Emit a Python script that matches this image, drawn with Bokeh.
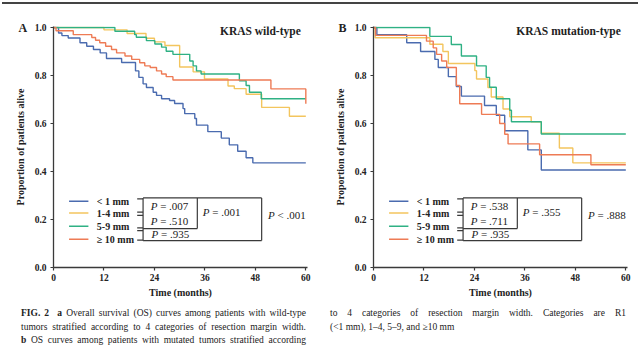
from bokeh.plotting import figure
from bokeh.models import Range1d, Label, PrintfTickFormatter, Div
from bokeh.layouts import column, row
from bokeh.embed import file_html
from bokeh.resources import INLINE
from bokeh.core.properties import value

# ---------------- data ----------------
groups = ["< 1  mm", "1-4  mm", "5-9 mm", "\u2265 10 mm"]
colors = ["#4A6BAF", "#F3C55E", "#2FB184", "#EE7B55"]

# Panel A (KRAS wild-type): event times (months) and survival after each step
a_blue_t = [0, 1.2, 2.0, 3.5, 6.3, 7.9, 9.5, 11.1, 12.6, 16.2, 19.5, 20.3, 21.3, 22.1, 23.7, 24.5, 25.7, 27.6, 28.8, 30.8, 31.2, 33.6, 34.0, 36.7, 39.9, 41.8, 43.8, 45.8, 47.4, 60]
a_blue_s = [1.0, 0.977, 0.966, 0.956, 0.936, 0.922, 0.908, 0.894, 0.871, 0.854, 0.819, 0.792, 0.765, 0.750, 0.730, 0.717, 0.703, 0.696, 0.683, 0.662, 0.641, 0.621, 0.593, 0.566, 0.539, 0.511, 0.484, 0.457, 0.436, 0.436]
a_yel_t = [0, 12.0, 17.5, 22.0, 24.0, 26.5, 30.0, 33.2, 35.9, 41.5, 43.0, 45.8, 49.5, 56.1, 60]
a_yel_s = [1.0, 0.99, 0.975, 0.955, 0.94, 0.925, 0.835, 0.815, 0.785, 0.756, 0.745, 0.722, 0.667, 0.630, 0.630]
a_grn_t = [0, 14.6, 19.3, 19.7, 22.1, 24.1, 25.7, 26.8, 28.4, 32.4, 33.2, 34.0, 35.1, 44.2, 45.8, 46.6, 49.4, 60]
a_grn_s = [1.0, 0.984, 0.970, 0.959, 0.945, 0.931, 0.918, 0.901, 0.888, 0.860, 0.840, 0.819, 0.806, 0.778, 0.758, 0.730, 0.703, 0.703]
a_org_t = [0, 0.6, 4.7, 9.1, 10.0, 11.0, 12.4, 13.8, 15.0, 17.0, 18.6, 20.5, 21.7, 23.0, 24.5, 25.7, 26.8, 28.4, 51.7, 60]
a_org_s = [1.0, 0.986, 0.970, 0.958, 0.947, 0.936, 0.922, 0.908, 0.894, 0.881, 0.867, 0.853, 0.840, 0.833, 0.819, 0.806, 0.795, 0.781, 0.744, 0.682]

# Panel B (KRAS mutation-type)
b_blue_t = [0, 0.8, 7.9, 11.2, 14.6, 15.4, 17.8, 19.7, 20.9, 26.4, 29.2, 31.2, 36.7, 39.9, 60]
b_blue_s = [1.0, 0.970, 0.936, 0.900, 0.867, 0.833, 0.795, 0.754, 0.714, 0.675, 0.634, 0.570, 0.490, 0.406, 0.406]
b_yel_t = [0, 0.4, 13.4, 16.5, 17.8, 24.1, 24.5, 27.2, 28.0, 30.8, 32.4, 37.5, 39.9, 44.2, 47.4, 60]
b_yel_s = [1.0, 0.957, 0.930, 0.900, 0.850, 0.820, 0.785, 0.750, 0.710, 0.660, 0.628, 0.607, 0.559, 0.498, 0.436, 0.436]
b_grn_t = [0, 13.4, 18.5, 20.9, 24.5, 26.8, 27.6, 29.2, 32.4, 32.8, 39.9, 60]
b_grn_s = [1.0, 0.963, 0.929, 0.881, 0.840, 0.792, 0.751, 0.703, 0.655, 0.607, 0.556, 0.556]
b_org_t = [0, 0.5, 12.6, 14.2, 15.0, 16.2, 17.4, 19.7, 20.5, 25.7, 30.0, 31.2, 32.0, 39.5, 51.7, 60]
b_org_s = [1.0, 0.967, 0.943, 0.915, 0.888, 0.860, 0.833, 0.758, 0.682, 0.638, 0.600, 0.555, 0.515, 0.470, 0.428, 0.428]

x_ticks = [0, 12, 24, 36, 48, 60]
y_ticks = [0.0, 0.2, 0.4, 0.6, 0.8, 1.0]

a_pairs = [".007", ".510", ".935"]
a_group_p = ".001"
a_overall = "< .001"
b_pairs = [".538", ".711", ".935"]
b_group_p = ".355"
b_overall = "= .888"

SERIF = "Liberation Serif"
INK = "#3a3a3a"


def make_panel(letter, title, curves, pairs, group_p, overall):
    p = figure(width=320, height=294, output_backend="svg", toolbar_location=None,
               x_range=Range1d(0, 60.4), y_range=Range1d(0, 1.004),
               min_border_left=53, min_border_right=13, min_border_top=20, min_border_bottom=31)
    p.outline_line_color = None
    p.grid.grid_line_color = None
    p.background_fill_color = "white"
    p.border_fill_color = "white"
    for ax in (p.xaxis[0], p.yaxis[0]):
        ax.axis_line_color = INK
        ax.axis_line_width = 1.3
        ax.major_tick_line_color = INK
        ax.major_tick_line_width = 1.2
        ax.major_tick_out = 3
        ax.major_tick_in = 0
        ax.minor_tick_line_color = None
        ax.major_label_text_font = SERIF
        ax.major_label_text_font_style = "bold"
        ax.major_label_text_font_size = "9.5px"
        ax.major_label_text_color = "#222"
        ax.axis_label_text_font = SERIF
        ax.axis_label_text_font_style = "bold"
        ax.axis_label_text_font_size = "10px"
        ax.axis_label_text_color = "#222"
    p.xaxis.ticker = x_ticks
    p.yaxis.ticker = y_ticks
    p.yaxis.formatter = PrintfTickFormatter(format="%.1f")
    p.xaxis.axis_label = "Time (months)"
    p.yaxis.axis_label = "Proportion of patients alive"
    p.xaxis.major_label_standoff = 3
    p.xaxis.axis_label_standoff = 3
    p.yaxis.major_label_standoff = 4
    p.yaxis.axis_label_standoff = 6

    # panel letter as the figure title, pulled left of the axis
    p.title.text = letter
    p.title.align = "left"
    p.title.offset = -35
    p.title.vertical_align = "bottom"
    p.title.standoff = -17
    p.title.text_font = SERIF
    p.title.text_font_style = "bold"
    p.title.text_font_size = "12px"
    p.title.text_color = "#222"

    for (t, s), c in zip(curves, colors):
        p.step(x=t, y=s, mode="after", line_color=c, line_width=1.4)

    # legend
    rows = [0.276, 0.227, 0.172, 0.118]
    p.segment(x0=[3.7] * 4, x1=[8.3] * 4, y0=rows, y1=rows, line_color=colors, line_width=1.4)
    p.text(x=[10.3] * 4, y=rows, text=groups, text_font=value(SERIF), text_font_style="bold",
           text_font_size="10px", text_baseline="middle", text_align="left", text_color="#222")

    # brackets and boxes
    xl, xb, xi, xr = 19.9, 21.3, 34.2, 49.5
    yt, yb, yi = 0.290, 0.112, 0.162
    ticks_y = [0.286, 0.231, 0.217, 0.165, 0.154, 0.114]
    p.segment(x0=[xl] * 6, x1=[xb] * 6, y0=ticks_y, y1=ticks_y, line_color=INK, line_width=1.2)
    p.segment(x0=[xb, xb, xb, xr, xi, xb], x1=[xr, xr, xb, xr, xi, xi],
              y0=[yt, yb, yt, yt, yt, yi], y1=[yt, yb, yb, yb, yi, yi],
              line_color=INK, line_width=1.2)

    # P values
    px = [23.1, 23.1, 23.3, 35.5]
    py = [0.257, 0.195, 0.138, 0.233]
    rest = ["= " + v for v in pairs] + ["= " + group_p]
    p.text(x=px, y=py, text=["P"] * 4, text_font=value(SERIF), text_font_style="italic",
           text_font_size="11px", text_baseline="middle", text_align="left", text_color="#222")
    p.text(x=px, y=py, text=rest, x_offset=9.5, text_font=value(SERIF),
           text_font_size="11px", text_baseline="middle", text_align="left", text_color="#222")
    p.text(x=[51.0], y=[0.217], text=["P"], text_font=value(SERIF), text_font_style="italic",
           text_font_size="11px", text_baseline="middle", text_align="left", text_color="#222")
    p.text(x=[51.0], y=[0.217], text=[overall], x_offset=9.5, text_font=value(SERIF),
           text_font_size="11px", text_baseline="middle", text_align="left", text_color="#222")

    p.add_layout(Label(x=58.8, y=0.986, text=title, text_align="right", text_baseline="middle",
                       text_font=SERIF, text_font_style="bold", text_font_size="11.5px",
                       text_color="#222"))
    return p


pa = make_panel("A", "KRAS wild-type",
                [(a_blue_t, a_blue_s), (a_yel_t, a_yel_s), (a_grn_t, a_grn_s), (a_org_t, a_org_s)],
                a_pairs, a_group_p, a_overall)
pb = make_panel("B", "KRAS mutation-type",
                [(b_blue_t, b_blue_s), (b_yel_t, b_yel_s), (b_grn_t, b_grn_s), (b_org_t, b_org_s)],
                b_pairs, b_group_p, b_overall)

# thin header rule across the page; the wrapper is made tall so that it is not
# pushed down onto the text baseline of the Div (which hid it behind the plots)
rule_html = ('<div style="position:relative;width:640px;height:24px;">'
             '<div style="position:absolute;left:2px;top:2px;width:636px;height:2px;'
             'background:#444444;"></div></div>')
rule = Div(text=rule_html, width=640, height=6, margin=0)

cap_html = (
    '<div style="position:relative;width:640px;height:52px;font-family:\'Liberation Serif\';'
    'font-size:9.5px;line-height:13.5px;color:#222">'
    '<div style="position:absolute;left:21px;top:7px;width:285px">'
    '<div style="text-align:justify;text-align-last:justify"><b>FIG. 2</b>&nbsp; <b>a</b> Overall survival (OS) curves among patients with wild-type</div>'
    '<div style="text-align:justify;text-align-last:justify">tumors stratified according to 4 categories of resection margin width.</div>'
    '<div style="text-align:justify;text-align-last:justify"><b>b</b> OS curves among patients with mutated tumors stratified according</div>'
    '</div>'
    '<div style="position:absolute;left:330px;top:7px;width:296px">'
    '<div style="text-align:justify;text-align-last:justify">to 4 categories of resection margin width. Categories are R1</div>'
    '<div>(&lt;1 mm), 1\u20134, 5\u20139, and \u226510 mm</div>'
    '</div></div>'
)
caption = Div(text=cap_html, width=640, height=52, margin=0)

layout = column(rule, row(pa, pb), caption)
open("out.html", "w").write(file_html(layout, INLINE))
